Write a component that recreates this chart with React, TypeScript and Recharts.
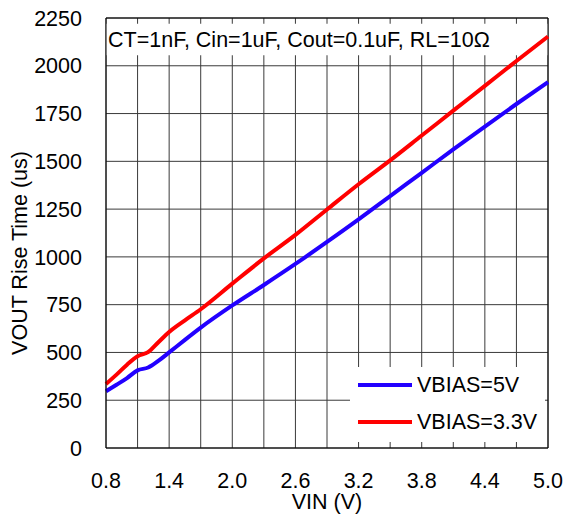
import { LineChart, Line, XAxis, YAxis, CartesianGrid, ReferenceLine, ReferenceArea, Label, Legend } from "recharts";

const vin = [0.8, 0.9, 1.0, 1.1, 1.2, 1.3, 1.4, 1.55, 1.7, 2.0, 2.3, 2.6, 2.9, 3.2, 3.5, 3.8, 4.1, 4.4, 4.7, 5.0];
const riseBias5 = [297, 331, 366, 406, 421, 457, 500, 566, 630, 746, 853, 963, 1078, 1196, 1318, 1440, 1562, 1682, 1800, 1915];
const riseBias33 = [335, 384, 436, 480, 502, 555, 607, 668, 726, 860, 992, 1115, 1248, 1380, 1505, 1635, 1765, 1895, 2025, 2153];

const xGrid = [0.8, 1.1, 1.4, 1.7, 2.0, 2.3, 2.6, 2.9, 3.2, 3.5, 3.8, 4.1, 4.4, 4.7, 5.0];
const xLabels = ["0.8", "1.4", "2.0", "2.6", "3.2", "3.8", "4.4", "5.0"];
const yTicks = [0, 250, 500, 750, 1000, 1250, 1500, 1750, 2000, 2250];

const series = [
  { name: "VBIAS=5V", color: "#2200ff" },
  { name: "VBIAS=3.3V", color: "#ff0000" },
];

const data = vin.map((v, i) => ({ vin: v, b5: riseBias5[i], b33: riseBias33[i] }));

const FONT = "'Liberation Sans', Arial, sans-serif";
const FS = 21.5;

const fmtX = (v: number) => {
  const s = v.toFixed(1);
  return xLabels.includes(s) ? s : "";
};

function LegendBox() {
  return (
    <div style={{ background: "#fff", width: 195, height: 75, position: "relative" }}>
      {series.map((s, i) => (
        <div key={s.name} style={{ position: "absolute", left: 8, top: 6 + i * 37, height: 24, display: "flex", alignItems: "center" }}>
          <div style={{ width: 54, height: 4, background: s.color }} />
          <span style={{ marginLeft: 5, fontSize: FS, color: "#000", lineHeight: "24px" }}>{s.name}</span>
        </div>
      ))}
    </div>
  );
}

export default function App() {
  return (
    <div style={{ position: "absolute", left: 0, top: 0, fontFamily: FONT, background: "#fff" }}>
      <LineChart width={563} height={518} data={data} margin={{ top: 18, right: 15, bottom: 10, left: 0 }}>
        <CartesianGrid stroke="#3a3a3a" strokeWidth={1} />
        <XAxis
          dataKey="vin"
          type="number"
          domain={[0.8, 5.0]}
          ticks={xGrid}
          interval={0}
          tickFormatter={fmtX}
          tickSize={0}
          tickMargin={25}
          height={60}
          axisLine={{ stroke: "#000" }}
          tick={{ fill: "#000", fontSize: FS }}
        >
          <Label
            content={({ viewBox }: any) => (
              <text x={viewBox.x + viewBox.width / 2} y={viewBox.y + 61} textAnchor="middle" fontSize={FS} fill="#000">
                VIN (V)
              </text>
            )}
          />
        </XAxis>
        <YAxis
          type="number"
          domain={[0, 2250]}
          ticks={yTicks}
          interval={0}
          tickSize={0}
          tickMargin={24}
          width={106}
          axisLine={{ stroke: "#000" }}
          tick={{ fill: "#000", fontSize: FS }}
        >
          <Label
            content={({ viewBox }: any) => {
              const cx = viewBox.x + 20;
              const cy = viewBox.y + viewBox.height / 2 + 20;
              return (
                <text x={cx} y={cy} transform={`rotate(-90 ${cx} ${cy})`} textAnchor="middle" dominantBaseline="central" fontSize={FS} fill="#000">
                  VOUT Rise Time (us)
                </text>
              );
            }}
          />
        </YAxis>
        <ReferenceArea x1={0.8} x2={5.0} y1={2055} y2={2220} fill="#fff" fillOpacity={1} stroke="none">
          <Label value="CT=1nF, Cin=1uF, Cout=0.1uF, RL=10Ω" position="insideLeft" offset={2} fill="#000" fontSize={FS} />
        </ReferenceArea>
        <ReferenceLine y={2250} stroke="#000" />
        <ReferenceLine x={5.0} stroke="#000" />
        <Line dataKey="b5" name={series[0].name} stroke={series[0].color} strokeWidth={4} type="monotone" dot={false} isAnimationActive={false} />
        <Line dataKey="b33" name={series[1].name} stroke={series[1].color} strokeWidth={4} type="monotone" dot={false} isAnimationActive={false} />
        <Legend
          layout="horizontal"
          verticalAlign="middle"
          align="center"
          content={() => <LegendBox />}
          wrapperStyle={{ left: 350, top: 367, width: 195, height: 75 }}
        />
      </LineChart>
    </div>
  );
}
